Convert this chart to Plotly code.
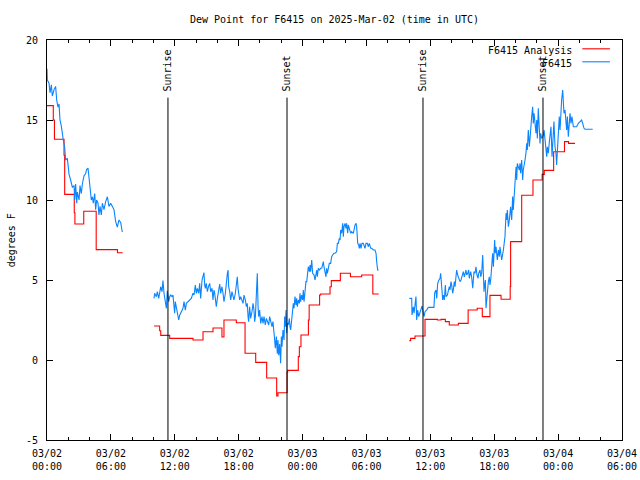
import pandas as pd
import plotly.graph_objects as go

TITLE = "Dew Point for F6415 on 2025-Mar-02 (time in UTC)"
BASE = pd.Timestamp("2025-03-02 00:00")

# (hours after 2025-03-02 00:00 UTC, dew point F)
obs_seg1 = [(0.0,18.2),(0.03,17.5),(0.19,17.3),(0.28,16.7),(0.41,17.2),(0.50,16.5),(0.66,16.9),(0.81,17.1),(0.91,16.25),(1.03,15.8),
            (1.13,16.0),(1.22,15.0),(1.35,14.6),(1.44,14.0),(1.53,13.75),(1.66,13.3),(1.75,12.5),(1.91,12.6),(1.97,12.1),(2.07,11.6),
            (2.22,11.25),(2.38,10.8),(2.54,10.9),(2.60,10.0),(2.69,11.0),(2.79,9.8),(2.85,10.5),(3.01,10.0),(3.10,10.9),(3.22,10.4),
            (3.32,11.0),(3.47,11.5),(3.63,11.65),(3.72,11.9),(3.85,12.0),(3.94,11.25),(4.04,10.8),(4.16,10.0),(4.26,10.2),(4.35,9.8),
            (4.48,10.4),(4.57,9.4),(4.66,10.0),(4.79,9.8),(4.88,9.06),(4.98,9.6),(5.10,9.06),(5.20,9.8),(5.35,9.4),(5.51,9.9),
            (5.67,10.2),(5.82,9.6),(5.98,9.8),(6.14,9.6),(6.29,9.4),(6.45,8.65),(6.60,8.3),(6.76,8.75),(6.92,8.6),(7.07,8.0)]

obs_seg2 = [(10.05,3.85),(10.11,4.17),(10.27,3.96),(10.36,4.27),(10.49,3.85),(10.58,4.375),(10.68,4.58),(10.80,4.27),(10.89,4.96),(10.99,4.17),
            (11.11,3.54),(11.21,3.23),(11.30,4.33),(11.43,3.65),(11.52,3.96),(11.61,4.06),(11.74,3.96),(11.83,4.06),(11.93,3.33),(11.99,2.92),
            (12.05,3.65),(12.15,3.23),(12.24,2.92),(12.37,2.5),(12.46,2.8),(12.62,3.02),(12.77,3.23),(12.87,3.65),(12.99,3.12),(13.09,3.54),
            (13.24,3.65),(13.40,3.75),(13.55,3.85),(13.71,4.17),(13.81,4.06),(13.93,4.69),(14.02,4.17),(14.12,4.48),(14.24,4.17),(14.34,4.79),
            (14.43,3.85),(14.56,5.0),(14.65,5.31),(14.74,5.46),(14.81,4.69),(14.87,4.48),(14.96,4.79),(15.06,4.27),(15.18,4.63),(15.28,4.79),
            (15.37,4.27),(15.50,4.48),(15.59,3.75),(15.68,4.375),(15.75,4.17),(15.90,3.33),(16.00,3.85),(16.12,4.27),(16.22,4.75),(16.31,4.17),
            (16.43,4.58),(16.53,4.17),(16.62,3.65),(16.75,4.17),(16.84,5.0),(16.94,5.42),(17.00,5.625),(17.06,4.58),(17.16,4.27),(17.25,3.75),
            (17.37,4.27),(17.47,3.96),(17.56,3.75),(17.69,4.17),(17.78,4.79),(17.87,5.2),(17.94,4.48),(18.09,3.75),(18.19,3.96),(18.31,3.75),
            (18.41,3.54),(18.50,4.06),(18.63,3.75),(18.72,3.33),(18.81,3.54),(18.88,2.71),(18.94,2.4),(19.03,3.33),(19.13,2.6),(19.25,3.02),
            (19.35,3.54),(19.44,3.12),(19.50,2.4),(19.57,2.71),(19.66,4.17),(19.75,5.42),(19.82,3.33),(19.88,2.71),(19.97,3.12),(20.07,2.29),
            (20.19,2.71),(20.29,2.29),(20.38,2.71),(20.44,2.5),(20.50,2.19),(20.60,2.6),(20.69,2.4),(20.82,2.19),(20.91,2.71),(21.01,2.4),
            (21.13,2.08),(21.22,2.4),(21.32,1.875),(21.38,1.25),(21.44,0.73),(21.54,1.46),(21.63,0.4),(21.69,1.25),(21.76,0.3),(21.85,1.0),
            (21.94,-0.2),(22.01,1.46),(22.07,0.83),(22.16,1.875),(22.26,1.25),(22.32,2.71),(22.38,2.08),(22.45,3.125),(22.51,1.67),(22.57,2.29),
            (22.66,2.19),(22.76,2.6),(22.82,2.08),(22.88,1.875),(22.98,2.5),(23.07,3.125),(23.13,3.54),(23.20,3.23),(23.29,3.96),(23.38,3.44),
            (23.45,3.85),(23.51,3.33),(23.60,3.75),(23.70,3.54),(23.76,4.17),(23.82,3.65),(23.92,4.06),(24.01,3.75),(24.07,4.375),(24.14,3.65),
            (24.23,4.375),(24.32,4.9),(24.39,4.9),(24.45,5.2),(24.54,5.83),(24.64,5.52),(24.70,5.94),(24.76,5.52),(24.86,6.25),(24.95,5.42),
            (25.08,5.31),(25.17,5.0),(25.26,5.31),(25.33,5.625),(25.39,5.2),(25.48,5.73),(25.58,5.625),(25.70,5.73),(25.80,5.73),(25.89,6.04),
            (25.95,6.15),(26.01,5.83),(26.11,5.52),(26.20,5.2),(26.26,5.73),(26.33,5.42),(26.42,5.73),(26.51,6.04),(26.64,6.04),(26.73,6.46),
            (26.83,6.56),(26.95,6.67),(27.05,6.67),(27.20,6.77),(27.27,7.29),(27.36,7.29),(27.45,7.6),(27.52,7.5),(27.58,8.125),(27.67,7.92),
            (27.77,8.54),(27.83,7.71),(27.89,8.33),(27.99,8.54),(28.08,8.23),(28.14,8.54),(28.24,7.92),(28.30,8.44),(28.39,8.23),(28.52,7.92),
            (28.61,8.02),(28.77,7.92),(28.93,8.44),(29.02,8.54),(29.08,8.33),(29.18,7.29),(29.27,7.19),(29.33,6.98),(29.40,7.29),(29.49,6.98),
            (29.58,7.29),(29.71,7.29),(29.86,6.98),(29.96,7.29),(30.08,7.29),(30.18,7.08),(30.27,7.29),(30.40,6.98),(30.49,6.98),(30.65,6.875),
            (30.80,6.875),(30.90,6.67),(30.96,6.15),(31.05,5.625),(31.15,5.625)]

obs_seg3 = [(34.03,3.85),(34.25,3.85),(34.28,2.81),(34.40,3.33),(34.47,2.92),(34.56,3.75),(34.65,3.96),(34.72,2.5),(34.81,3.125),(34.91,2.71),
            (35.03,3.02),(35.12,3.17),(35.22,3.375),(35.34,2.92),(35.41,2.71),(35.50,3.02),(35.66,3.125),(35.81,3.29),(36.13,3.29),(36.34,3.29),
            (36.41,4.21),(36.53,4.375),(36.60,3.85),(36.69,4.79),(36.81,5.0),(36.91,5.1),(36.97,5.42),(37.03,5.0),(37.10,4.58),(37.16,3.75),
            (37.22,4.06),(37.31,3.75),(37.41,4.69),(37.47,3.96),(37.60,4.06),(37.69,4.375),(37.78,4.58),(37.85,4.375),(37.94,4.9),(38.00,4.69),
            (38.10,4.17),(38.16,4.375),(38.25,4.9),(38.32,4.58),(38.41,5.31),(38.47,5.625),(38.57,5.31),(38.66,5.1),(38.79,4.9),(38.88,5.0),
            (38.97,5.31),(39.10,5.52),(39.19,5.2),(39.29,5.42),(39.35,5.625),(39.41,5.31),(39.51,5.42),(39.60,5.625),(39.66,5.1),(39.79,5.52),
            (39.88,5.2),(39.98,4.48),(40.04,5.2),(40.10,5.52),(40.20,5.42),(40.29,5.83),(40.38,5.31),(40.48,5.1),(40.54,5.42),(40.67,5.625),
            (40.73,5.2),(40.82,5.42),(40.92,6.56),(40.98,5.52),(41.04,4.27),(41.10,4.69),(41.17,5.0),(41.23,3.23),(41.29,3.85),(41.35,4.375),
            (41.45,4.9),(41.54,5.2),(41.60,4.69),(41.67,5.0),(41.76,6.04),(41.85,6.67),(41.92,5.83),(41.98,7.08),(42.04,7.5),(42.10,6.67),
            (42.17,7.08),(42.23,6.67),(42.29,6.25),(42.39,6.875),(42.48,6.46),(42.54,7.08),(42.70,6.25),(42.86,6.875),(43.01,7.71),(43.11,9.17),
            (43.17,8.75),(43.23,9.375),(43.33,8.33),(43.42,8.75),(43.54,9.58),(43.64,8.75),(43.73,10.21),(43.79,9.375),(43.95,11.25),(44.05,12.08),
            (44.11,11.25),(44.17,12.29),(44.26,12.08),(44.36,11.875),(44.42,12.29),(44.48,11.67),(44.58,12.5),(44.67,11.25),(44.73,11.875),(44.80,12.29),
            (44.89,12.5),(44.98,12.92),(45.05,13.54),(45.11,13.125),(45.20,14.375),(45.30,13.33),(45.36,13.96),(45.42,14.58),(45.52,15.21),(45.61,15.83),
            (45.67,14.79),(45.74,15.42),(45.83,14.58),(45.92,14.17),(45.99,15.0),(46.05,13.85),(46.14,15.73),(46.24,14.58),(46.30,13.54),(46.36,14.17),
            (46.46,13.85),(46.55,13.96),(46.61,14.06),(46.68,14.375),(46.77,13.75),(46.86,13.33),(46.93,12.71),(46.99,13.33),(47.08,12.92),(47.18,13.65),
            (47.24,14.17),(47.33,14.58),(47.43,12.71),(47.49,13.44),(47.55,14.375),(47.61,14.9),(47.71,13.33),(47.80,12.92),(47.86,12.19),(47.93,13.125),
            (48.02,14.79),(48.11,15.21),(48.18,14.375),(48.24,15.42),(48.33,16.25),(48.43,16.875),(48.49,15.83),(48.55,15.42),(48.65,15.625),(48.74,15.0),
            (48.80,14.375),(48.87,15.21),(48.96,13.96),(49.05,14.79),(49.12,15.42),(49.21,14.79),(49.30,15.21),(49.43,14.58),(49.59,14.58),(49.74,14.58),
            (49.90,14.79),(50.06,14.9),(50.21,15.0),(50.31,14.79),(50.43,14.48),(50.53,14.42),(51.25,14.42)]

ana_seg1 = [(0.0,15.9),(0.59,15.0),(0.70,13.8),(1.60,12.8),(1.66,10.35),(2.56,9.2),(2.62,8.5),(3.45,9.3),(4.62,6.9),(6.62,6.7),(7.11,6.7)]
ana_seg2 = [(10.05,2.125),(10.58,1.83),(10.68,1.54),(11.52,1.35),(13.71,1.25),(14.65,1.77),(15.59,2.0),(16.43,1.44),(16.62,2.5),(17.78,2.33),
            (18.6,0.42),(19.6,-0.15),(20.63,-1.125),(21.57,-2.25),(21.69,-2.05),(22.55,-0.75),(22.6,-0.65),(23.6,0.21),(23.7,0.83),(23.85,1.56),
            (24.55,2.5),(24.62,3.44),(25.6,4.06),(25.7,4.125),(26.58,4.58),(26.7,4.96),(27.55,5.42),(28.5,5.2),(29.55,5.31),(30.6,4.125),(31.15,4.125)]
ana_seg3 = [(34.03,1.21),(34.15,1.35),(34.56,1.5),(35.5,2.54),(36.66,2.5),(37.0,2.54),(37.41,2.4),(37.78,2.19),(38.63,2.29),(39.55,3.125),
            (40.4,3.23),(40.88,2.71),(41.6,4.04),(42.64,3.8),(43.5,4.6),(43.54,7.4),(44.58,10.3),(45.64,11.25),(46.5,11.6),(46.7,11.85),
            (47.58,13.02),(48.6,13.65),(48.98,13.54),(49.59,13.54)]

events = ["Sunrise", "Sunset", "Sunrise", "Sunset"]
event_hours = [11.36, 22.54, 35.31, 46.58]
event_top = 16.4

y_ticks = [-5, 0, 5, 10, 15, 20]
y_ticktext = ["-5", "0", "5", "10", "15", "20"]


def build(segments):
    xs, ys = [], []
    for seg in segments:
        for h, v in seg:
            xs.append(BASE + pd.Timedelta(hours=h))
            ys.append(v)
        xs.append(None)
        ys.append(None)
    return xs, ys


FONT = "DejaVu Sans Mono"
RED = "#ff0000"
BLUE = "#0a84ff"

fig = go.Figure()
ax, ay = build([ana_seg1, ana_seg2, ana_seg3])
ox, oy = build([obs_seg1, obs_seg2, obs_seg3])
fig.add_trace(go.Scatter(x=ax, y=ay, mode="lines", name="F6415 Analysis",
                         line=dict(color=RED, width=1.1, shape="hv"), connectgaps=False))
fig.add_trace(go.Scatter(x=ox, y=oy, mode="lines", name="F6415",
                         line=dict(color=BLUE, width=1.1), connectgaps=False))

for name, h in zip(events, event_hours):
    t = BASE + pd.Timedelta(hours=h)
    fig.add_shape(type="line", xref="x", yref="y", x0=t, x1=t, y0=-5, y1=event_top,
                  line=dict(color="black", width=1))
    fig.add_annotation(x=t, y=event_top, xref="x", yref="y", text=name, showarrow=False,
                       textangle=-90, xanchor="center", yanchor="bottom", yshift=4,
                       font=dict(family=FONT, size=10, color="black"))

# gnuplot-style key (text right, sample line left)
key = [("F6415 Analysis", RED, 0.975), ("F6415", BLUE, 0.9425)]
for label, col, yy in key:
    fig.add_annotation(x=0.9165, y=yy, xref="paper", yref="paper", text=label, showarrow=False,
                       xanchor="right", yanchor="middle", font=dict(family=FONT, size=10, color="black"))
    fig.add_shape(type="line", xref="paper", yref="paper", x0=0.931, x1=0.979, y0=yy + 0.003, y1=yy + 0.003,
                  line=dict(color=col, width=1.1))

fig.add_annotation(x=-0.062, y=0.5, xref="paper", yref="paper", text="degrees F", showarrow=False,
                   textangle=-90, xanchor="center", yanchor="middle",
                   font=dict(family=FONT, size=10, color="black"))

W, H = 640, 480
fig.update_layout(
    width=W, height=H,
    margin=dict(l=47, r=18, t=40, b=40, autoexpand=False),
    paper_bgcolor="white", plot_bgcolor="white",
    showlegend=False,
    font=dict(family=FONT, size=10, color="black"),
    title=dict(text=TITLE, x=0.5, xref="paper", y=1 - 19 / H, yref="container",
               xanchor="center", yanchor="middle", font=dict(family=FONT, size=10, color="black")),
    xaxis=dict(type="date",
               range=[BASE, BASE + pd.Timedelta(hours=54)],
               tick0=BASE, dtick=6 * 3600 * 1000,
               tickformat="%m/%d<br>%H:%M",
               ticks="inside", ticklen=6, tickcolor="black", tickwidth=1,
               ticklabelstandoff=4, automargin=False,
               minor=dict(dtick=2 * 3600 * 1000, ticks="inside", ticklen=3, tickcolor="black"),
               showline=True, linecolor="black", linewidth=1, mirror="ticks",
               showgrid=False, zeroline=False, fixedrange=True),
    yaxis=dict(range=[-5, 20], tickvals=y_ticks, ticktext=y_ticktext,
               ticks="inside", ticklen=6, tickcolor="black", tickwidth=1,
               ticklabelstandoff=6, automargin=False,
               showline=True, linecolor="black", linewidth=1, mirror="ticks",
               showgrid=False, zeroline=False, fixedrange=True),
)

# remove the default 8px page margin so the 640x480 figure fills the window exactly
fig.write_html("out.html", config={"displayModeBar": False},
               post_script="document.body.style.margin='0';document.body.style.overflow='hidden';")
